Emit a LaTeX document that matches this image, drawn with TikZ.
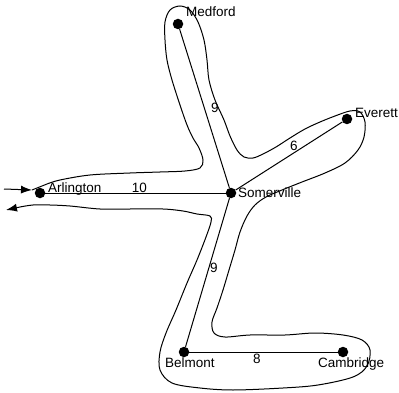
\documentclass[tikz,border=0pt]{standalone}
\usepackage{fontspec}
\setmainfont{Liberation Sans}
\usetikzlibrary{arrows.meta}
\begin{document}
\begin{tikzpicture}[x=1pt,y=-1pt,
  city/.style={circle,fill=black,inner sep=0pt,minimum size=10.5pt},
  lbl/.style={inner sep=0pt,font=\fontsize{13.5}{15}\selectfont},
  edge/.style={line width=1pt},
  outline/.style={line width=1pt},
  tip/.style={-{Latex[length=11pt,width=8pt]}}]
\useasboundingbox (0,0) rectangle (399,393);
% cities
\node[city] (med) at (178,24) {};
\node[city] (eve) at (347,119) {};
\node[city] (som) at (231,193) {};
\node[city] (arl) at (40,193) {};
\node[city] (bel) at (184,352) {};
\node[city] (cam) at (343,352) {};
% edges
\draw[edge] (med) -- (som);
\draw[edge] (eve) -- (som);
\draw[edge] (arl) -- (som);
\draw[edge] (som) -- (bel);
\draw[edge] (bel) -- (cam);
% outline
\coordinate (inA) at (4,189);
\coordinate (inB) at (32,190);
\coordinate (outB) at (6,210);
\draw[outline,tip] (inA) -- (inB);
\draw[outline,tip] (inB) -- (47,184) plot[smooth,tension=0.55] coordinates {
 (47,184) (60,180) (90,175) (130,173) (160,172) (185,171) (200,168) (203,160) (199,148)
 (193,138) (187,125) (180,105) (172,80) (167,60) (165,40) (165,22) (170,10) (180,6)
 (190,10) (198,22) (204,40) (207,60) (209,80) (215,100) (224,120) (230,136) (237,150)
 (244,157) (253,158) (263,154) (276,147) (290,138) (305,129) (320,122) (335,116)
 (350,111) (360,112) (365,122) (364,137) (358,150) (345,163) (325,173) (302,182)
 (282,190) (266,197) (255,205) (247,216) (240,232) (235,250) (229,270) (223,290)
 (217,308) (212,322) (214,333) (225,337) (250,335) (285,335) (315,333) (343,335)
 (362,340) (370,350) (367,366) (353,377) (318,385) (283,388) (233,390) (200,388)
 (172,383) (160,370) (160,352) (166,333) (176,310) (187,283) (197,260) (206,237)
 (211,222) (210,216) (197,214) (183,211) (163,209) (130,209) (100,209) (70,206)
 (50,205) (33,205) (20,207)} -- (outB);
% city labels
\node[lbl,anchor=base west] (tmed) at (186,17) {Medford};
\node[lbl,anchor=base west] (teve) at (355,118) {Everett};
\node[lbl,anchor=base west] (tsom) at (238,197) {Somerville};
\node[lbl,anchor=base west] (tarl) at (48,193) {Arlington};
\node[lbl,anchor=base west] (tbel) at (165,367) {Belmont};
\node[lbl,anchor=base west] (tcam) at (318,367) {Cambridge};
% edge labels
\node[lbl,anchor=base] (w1) at (139.5,193) {10};
\node[lbl,anchor=base] (w2) at (215,113) {9};
\node[lbl,anchor=base] (w3) at (294,150) {6};
\node[lbl,anchor=base] (w4) at (214,272) {9};
\node[lbl,anchor=base] (w5) at (257,363) {8};
\end{tikzpicture}
\end{document}
